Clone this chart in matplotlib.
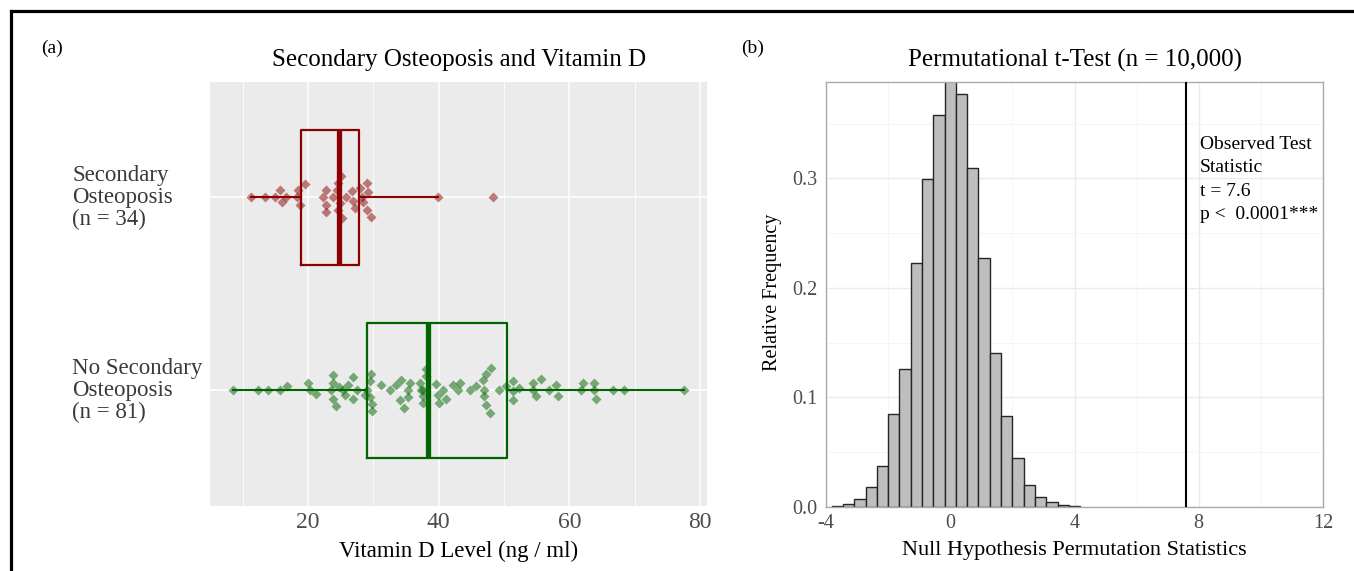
import matplotlib
matplotlib.use("Agg")
import matplotlib.pyplot as plt
import matplotlib.transforms as mtransforms
from matplotlib.lines import Line2D
from matplotlib.ticker import MultipleLocator, FixedLocator
import numpy as np

plt.rcParams['font.family'] = ['Liberation Serif', 'DejaVu Serif']
plt.rcParams['axes.unicode_minus'] = False

# ---------------- data ----------------
group_labels = ["No Secondary\nOsteoposis\n(n = 81)", "Secondary\nOsteoposis\n(n = 34)"]

sec_values = [11.25, 13.4, 14.96, 15.7, 15.98, 16.6, 18.3, 18.4, 18.8, 19.5,
              22.3, 22.7, 22.7, 22.7, 23.9, 24.5, 24.6, 25.1, 24.9, 24.6,
              25.2, 25.75, 26.7, 26.9, 27.2, 27.9, 28.2, 28.4, 29.0, 29.2,
              29.0, 29.7, 39.9, 48.3]
sec_jitter = [0, 0, 0, 0.036, -0.026, 0, 0, 0.040, -0.038, 0.071,
              0, 0.040, -0.038, -0.076, 0, 0.040, 0.074, 0.112, -0.029, -0.064,
              -0.107, 0, 0.031, -0.021, -0.055, 0.048, 0, -0.026, 0.074, 0.026,
              -0.064, -0.102, 0, 0]

nosec_values = [8.50, 12.32, 13.84, 15.73, 16.84, 20.05, 20.31, 21.17, 23.87, 23.87,
                23.51, 23.87, 24.22, 24.78, 25.39, 25.65, 26.16, 26.82, 26.92, 27.43,
                28.80, 28.96, 29.72, 29.47, 29.47, 29.87, 29.87, 31.25, 32.52, 33.54,
                34.05, 34.30, 34.66, 35.57, 35.32, 37.10, 37.35, 37.61, 37.61, 38.12,
                38.02, 39.64, 39.90, 40.05, 40.66, 41.17, 42.19, 43.21, 42.95, 44.73,
                45.75, 46.77, 47.18, 48.04, 47.02, 47.02, 47.28, 47.79, 49.31, 50.33,
                51.35, 51.35, 51.35, 52.37, 54.40, 54.40, 54.91, 55.67, 56.95, 57.96,
                58.22, 62.03, 61.78, 63.82, 63.82, 64.07, 66.62, 68.40, 77.56, 37.61,
                35.32]
nosec_jitter = [0, 0, 0, 0, 0.024, 0.038, 0, -0.019, 0.081, 0.038,
                0, -0.043, -0.079, 0.017, 0, -0.022, 0.029, 0.067, -0.045, 0,
                -0.022, 0, 0.086, 0.047, -0.036, -0.069, -0.105, 0.029, 0, 0.029,
                -0.048, 0.055, -0.092, 0.038, 0, 0.038, 0, -0.031, -0.066, 0.111,
                0.073, 0.035, -0.022, -0.066, 0, -0.045, 0.029, 0.038, 0, 0,
                0.024, 0.052, 0.086, 0.116, 0, -0.031, -0.074, -0.117, 0, 0.024,
                0.047, -0.005, -0.048, 0.012, 0.038, 0, -0.031, 0.059, 0, 0.029,
                -0.028, 0.038, 0, 0.038, 0, -0.045, 0, 0, 0, 0,
                -0.034]

# box statistics (whisker low, Q1, median, Q3, whisker high)
sec_box = [11.25, 18.9, 24.7, 27.8, 39.9]
nosec_box = [8.5, 29.0, 38.3, 50.4, 77.56]

# permutation histogram (relative frequency / density)
hist_start = -3.817
hist_binwidth = 0.3635
hist_heights = [0.0012, 0.0024, 0.0070, 0.0186, 0.0374, 0.0846, 0.1257, 0.2231,
                0.2992, 0.3580, 0.3920, 0.3772, 0.3093, 0.2271, 0.1403, 0.0834,
                0.0451, 0.0201, 0.0094, 0.0043, 0.0021, 0.0012]
observed_t = 7.6
annot_text = "Observed Test\nStatistic\nt = 7.6\np <  0.0001***"

# ---------------- figure ----------------
W, H = 1354, 571
fig = plt.figure(figsize=(W / 100, H / 100), dpi=100)


def fx(px):
    return px / W


def fy(py):
    return 1 - py / H


TXT = '#4D4D4D'

# frame lines
fig.add_artist(Line2D([fx(11), 1.0], [fy(11), fy(11)], color='black', lw=2.3))
fig.add_artist(Line2D([fx(11), fx(11)], [fy(11), 0.0], color='black', lw=2.3))

# ---------------- panel (a) ----------------
ax1 = fig.add_axes([fx(210), fy(506), fx(707) - fx(210), fy(81.7) - fy(506)])
ax1.set_facecolor('#EBEBEB')
ax1.xaxis.set_major_locator(FixedLocator([20, 40, 60, 80]))
ax1.xaxis.set_minor_locator(FixedLocator([10, 30, 50, 70]))
ax1.grid(which='major', color='white', lw=1.1)
ax1.grid(which='minor', axis='x', color='white', lw=0.55)
ax1.set_axisbelow(True)
for s in ax1.spines.values():
    s.set_visible(False)

colors = {'sec': '#8B0000', 'nosec': '#006400'}

ax1.plot(nosec_values, 1 + np.array(nosec_jitter), linestyle='none', marker='D', ms=5.2,
         color=colors['nosec'], alpha=0.5, mec='none', zorder=2)
ax1.plot(sec_values, 2 + np.array(sec_jitter), linestyle='none', marker='D', ms=5.2,
         color=colors['sec'], alpha=0.5, mec='none', zorder=2)


def stats_dict(b):
    return dict(whislo=b[0], q1=b[1], med=b[2], q3=b[3], whishi=b[4], fliers=[])


for b, pos, c in [(nosec_box, 1, colors['nosec']), (sec_box, 2, colors['sec'])]:
    kw = dict(positions=[pos], widths=0.7, showfliers=False, showcaps=False,
              boxprops=dict(color=c, lw=1.6), medianprops=dict(color=c, lw=3.8),
              whiskerprops=dict(color=c, lw=1.5), zorder=3)
    try:
        ax1.bxp([stats_dict(b)], orientation='horizontal', **kw)
    except TypeError:
        ax1.bxp([stats_dict(b)], vert=False, **kw)

ax1.set_xlim(5.0, 81.08)
ax1.set_ylim(0.4, 2.6)
ax1.set_yticks([1, 2])
ax1.set_yticklabels([])
ax1.xaxis.set_major_locator(FixedLocator([20, 40, 60, 80]))
ax1.xaxis.set_major_formatter(matplotlib.ticker.FormatStrFormatter('%d'))
ax1.tick_params(axis='both', which='both', length=0)
ax1.tick_params(axis='x', labelsize=17, labelcolor=TXT, pad=4)

trans = mtransforms.blended_transform_factory(fig.transFigure, ax1.transData)
for i, lab in enumerate(group_labels):
    ax1.text(fx(72), i + 1, lab, transform=trans, ha='left', va='center',
             fontsize=16.5, color='#3A3A3A', linespacing=1.07, multialignment='left')

ax1.set_xlabel("Vitamin D Level (ng / ml)", fontsize=16.5, color='black', va='center')
ax1.xaxis.set_label_coords(0.5, (506 - 551) / 424.3)

fig.text(fx(459), fy(60), "Secondary Osteoposis and Vitamin D", ha='center', va='center',
         fontsize=18)
fig.text(fx(52), fy(48), "(a)", ha='center', va='center', fontsize=14)

# ---------------- panel (b) ----------------
ax2 = fig.add_axes([fx(826), fy(507), fx(1323) - fx(826), fy(81.7) - fy(507)])
ax2.set_facecolor('white')
ax2.set_xlim(-4, 12)
ax2.set_ylim(0, 0.3884)
ax2.xaxis.set_major_locator(MultipleLocator(4))
ax2.xaxis.set_minor_locator(MultipleLocator(2))
ax2.yaxis.set_major_locator(MultipleLocator(0.1))
ax2.yaxis.set_minor_locator(MultipleLocator(0.05))
ax2.yaxis.set_major_formatter(matplotlib.ticker.FormatStrFormatter('%.1f'))
ax2.grid(which='major', color='#EBEBEB', lw=1.0)
ax2.grid(which='minor', color='#F4F4F4', lw=0.6)
ax2.set_axisbelow(True)
for s in ax2.spines.values():
    s.set_color('#AAAAAA')
    s.set_linewidth(1.0)
ax2.tick_params(axis='both', which='both', length=0)
ax2.tick_params(axis='y', labelsize=14.5, labelcolor=TXT, pad=6)
ax2.tick_params(axis='x', labelsize=14.5, labelcolor=TXT, pad=5)

edges = hist_start + hist_binwidth * np.arange(len(hist_heights))
ax2.bar(edges, hist_heights, width=hist_binwidth, align='edge', color='#BEBEBE',
        edgecolor='#262626', linewidth=1.0, zorder=2)
ax2.axvline(observed_t, color='black', lw=1.5, zorder=3)
ax2.text(observed_t + 0.44, 0.339, annot_text, ha='left', va='top', fontsize=14,
         linespacing=1.5, color='black', zorder=4)

ax2.set_xlabel("Null Hypothesis Permutation Statistics", fontsize=16, va='center')
ax2.xaxis.set_label_coords(0.5, (507 - 551) / 425.3)
ax2.set_ylabel("Relative Frequency", fontsize=14.5, va='center')
ax2.yaxis.set_label_coords((773 - 826) / 497, (507 - 292) / 425.3)

fig.text(fx(1075), fy(60), "Permutational t-Test (n = 10,000)", ha='center', va='center',
         fontsize=18)
fig.text(fx(753), fy(48), "(b)", ha='center', va='center', fontsize=14)

fig.savefig("out.png", dpi=100)
